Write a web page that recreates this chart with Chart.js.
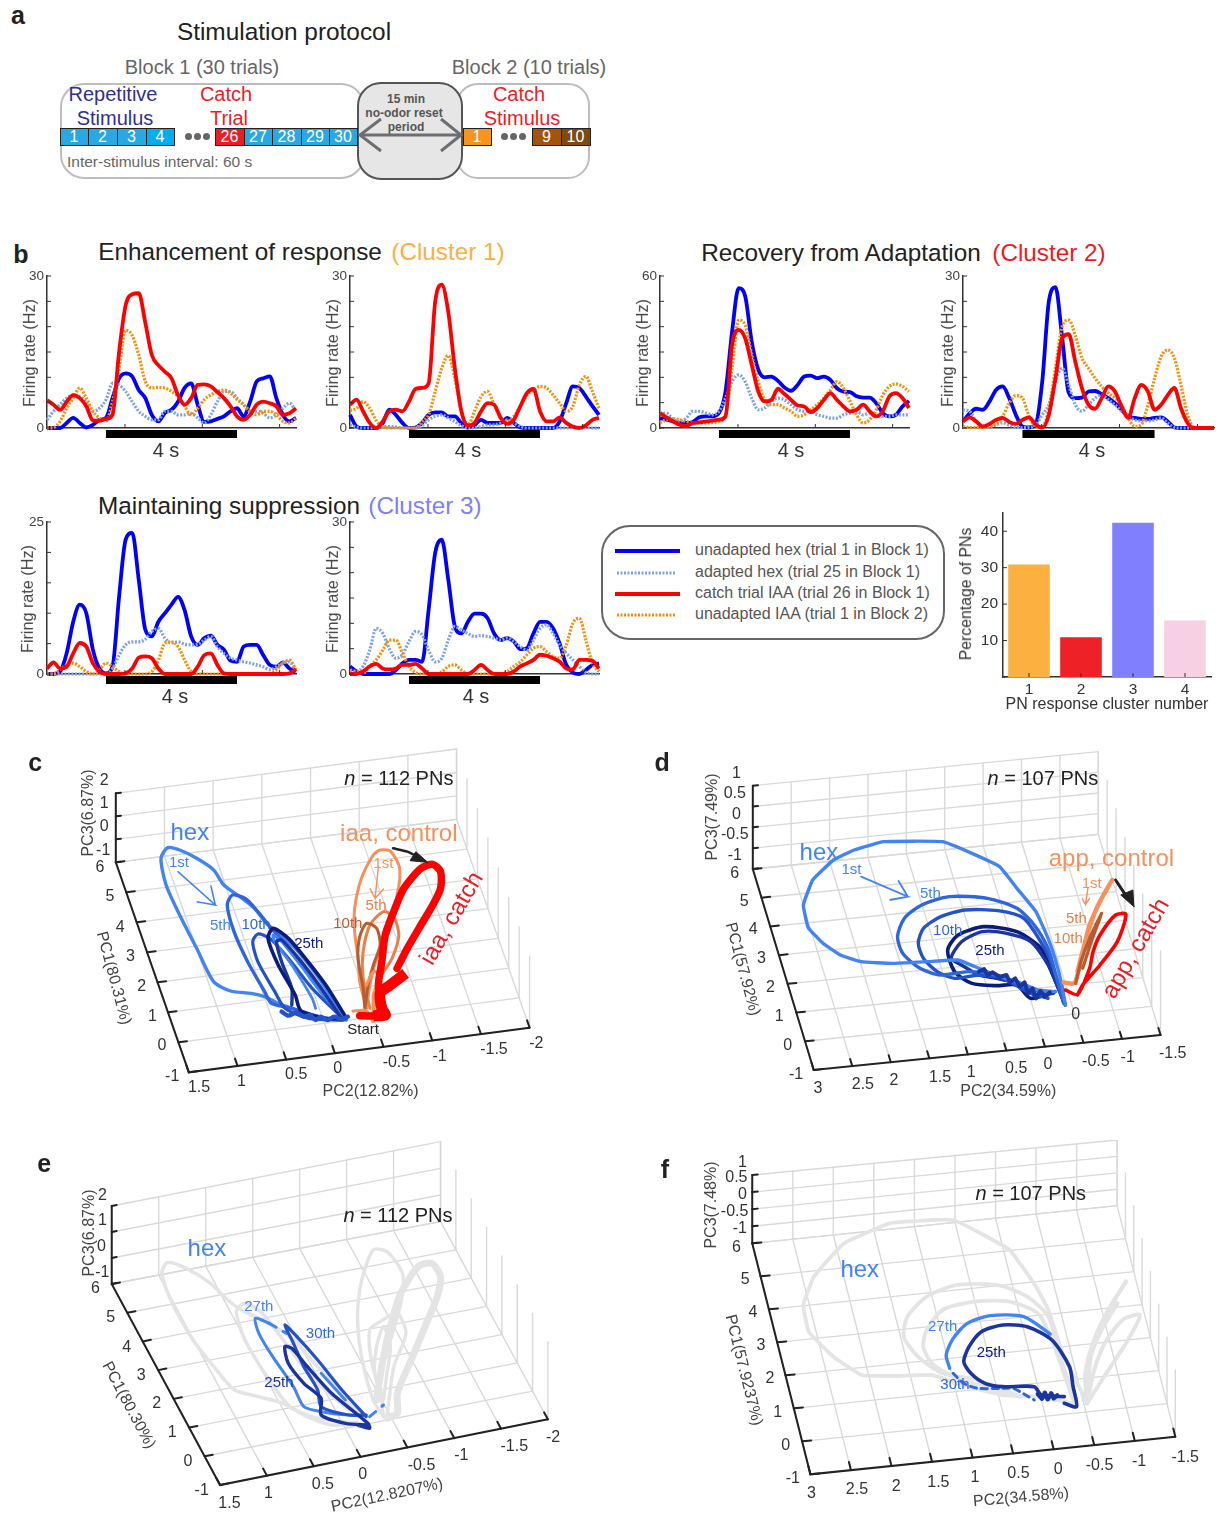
<!DOCTYPE html>
<html>
<head>
<meta charset="utf-8">
<script src="https://cdn.jsdelivr.net/npm/chart.js@4"></script>
<style>
  html, body { margin: 0; padding: 0; background: #fff; }
  #page { position: relative; width: 1221px; height: 1513px; overflow: hidden; font-family: "Liberation Sans", Arial, sans-serif; }
  #page canvas { position: absolute; }
  .t { position: absolute; white-space: nowrap; line-height: 1; }
  .box { position: absolute; box-sizing: border-box; }
  svg { position: absolute; left: 0; top: 0; }
</style>
</head>
<body>
<div id="page"></div>
<script>
// ::::: Firing rate traces, panel b. One value per time step :::::
const timeAxis = [-1.8, -1.6, -1.4, -1.2, -1, -0.8, -0.6, -0.4, -0.2, 0, 0.2, 0.4, 0.6, 0.8, 1, 1.2, 1.4, 1.6, 1.8, 2, 2.2, 2.4, 2.6, 2.8, 3, 3.2, 3.4, 3.6, 3.8, 4, 4.2, 4.4, 4.6, 4.8, 5, 5.2, 5.4, 5.6, 5.8];
const xTickTimes = [0.58, 2.94, 5.3];

const enh1Blue = [0, 0, 0, 1, 2, 1, 0.1, 0.6, 1.6, 2, 5.9, 9.8, 10.8, 10.2, 7.5, 5.9, 2.6, 1.3, 3, 3.6, 5.2, 7.9, 8.8, 4.6, 1.2, 1.3, 1.8, 2.3, 3.3, 3.9, 2.3, 5.2, 9.2, 9.8, 10.2, 5.9, 2.6, 1.3, 2];
const enh1Adapted = [1.6, 3.3, 4.6, 5.9, 6.5, 6.2, 5.2, 3.3, 3.9, 5.6, 8.8, 8.5, 7.2, 5.2, 3.3, 2.3, 1.6, 1.6, 3.3, 3.3, 2.6, 2.6, 2.9, 2, 1, 2.6, 5.2, 7.2, 7.2, 5.9, 4.6, 3.3, 3.3, 2.9, 2, 2.6, 3.9, 4.9, 3.3];
const enh1Red = [5.5, 4.6, 3.6, 5.2, 6.5, 5.9, 4.3, 1.5, 1.4, 1.8, 2.6, 15, 24.2, 26.4, 26.6, 20.8, 14.4, 12.4, 11.1, 9.8, 6.5, 4.6, 5.9, 8.5, 8.6, 8.2, 7.1, 5.9, 4.3, 2.3, 1.6, 2.6, 4.6, 5.2, 4.9, 4.3, 2.6, 2.9, 3.9];
const enh1Orange = [0, 0.1, 1.3, 3.9, 5.9, 7.9, 5.9, 3.3, 2, 1.4, 5.2, 11.8, 19.3, 18.3, 14.4, 9.2, 7.9, 8, 7.9, 7.2, 6.2, 4.3, 2.6, 3.9, 5.6, 6.5, 7.2, 7.5, 6.9, 5.6, 4.6, 3.3, 2.6, 3.3, 3.3, 2.6, 1.3, 1, 2];

const enh2Blue = [2.6, 0.3, 0, 0, 0, 1, 3.6, 2.6, 1, 0, 0.1, 1, 2.6, 3.1, 3.1, 2.3, 2.3, 1, 0.1, 0.6, 1.6, 1, 1, 1, 2, 1, 0.1, 0, 0, 0, 0, 0, 1.3, 4.9, 8.2, 7.9, 6.2, 4.3, 2.6];
const enh2Adapted = [0.6, 0.2, 0, 0, 0, 0.3, 0.3, 0.2, 0, 0, 0, 0.5, 1.6, 2.3, 2.6, 2, 1.3, 0.5, 0, 0, 0.3, 0.6, 0.6, 1, 1.6, 1, 0.3, 0, 0, 0, 0, 0, 0, 0, 0, 0, 0, 0, 0];
const enh2Red = [4.6, 5.6, 3.3, 1, 0, 1.3, 3.3, 3.6, 3.3, 5.2, 7.7, 7.9, 8.8, 24.9, 28.3, 22.9, 11.8, 3.3, 0.5, 1, 3.3, 4.9, 4.6, 2, 0.8, 1.6, 4.3, 6.9, 7.7, 3.3, 1.3, 1.3, 2.1, 1, 0.3, 0, 0.5, 1.6, 2];
const enh2Orange = [3.5, 3.9, 5.2, 3.9, 1.5, 0.2, 0, 0, 0, 0, 0, 1.3, 2.6, 7.2, 11.8, 14.3, 9.8, 3.3, 0.6, 3.3, 6.2, 7.2, 4.6, 2, 1.3, 2.3, 4.3, 6.5, 7.5, 8.2, 7.9, 6.5, 4.9, 3.3, 4.3, 8.5, 10.2, 7.2, 3.9];

const rec1Blue = [3.9, 3.3, 2.6, 2, 2, 2.4, 4.2, 4.6, 4.6, 5.9, 14.4, 38, 55.2, 52, 34, 23, 20, 20.3, 18.6, 16, 14.7, 17, 20.3, 20.7, 19.7, 20.3, 19, 15.7, 14.4, 14.2, 12.5, 12, 12, 9.8, 5.9, 4.6, 5.2, 8.5, 10.7];
const rec1Adapted = [5.2, 5.9, 3.3, 2.6, 3.9, 6.6, 6.6, 5.9, 5.2, 6.6, 11.8, 18.3, 21, 18.3, 11.8, 7.2, 7.9, 10.5, 11.8, 11.1, 9.2, 7.2, 6.6, 6.6, 5.2, 4.6, 3.9, 3.9, 5.2, 5.9, 6.6, 5.2, 5.9, 4.6, 4.6, 4.6, 5.2, 5.2, 5.2];
const rec1Red = [5.9, 4.2, 2.6, 1.3, 0.7, 2, 2.2, 2.6, 2.9, 3.3, 4.6, 32.8, 38.7, 35.4, 24.9, 14.4, 10.5, 11.1, 15.5, 13.4, 11.1, 8.9, 8.5, 6.3, 7.9, 11.1, 13.8, 11.1, 8.5, 6.6, 7.2, 9.2, 6.6, 4.6, 6.6, 12.5, 13.8, 11.8, 7.9];
const rec1Orange = [2, 3.3, 3.7, 3.3, 2.6, 2, 2, 2, 2.2, 2.6, 5.2, 23.6, 42.6, 40.6, 28.8, 18.3, 11.1, 9.2, 9.2, 7.9, 6.6, 4.6, 5.2, 7.2, 9.2, 11.8, 15, 18.3, 15.7, 10.5, 5.2, 2, 3.3, 7.2, 13, 16.4, 17.4, 16.4, 14.4];

const rec2Blue = [1.3, 2.9, 3.8, 3.6, 5.2, 7.5, 8.2, 5.9, 2.6, 0.3, 0.1, 0.7, 9.2, 25, 27.8, 18, 7, 5.9, 6, 7.2, 7.3, 6.7, 5.9, 4.9, 3.6, 2.3, 2, 1.8, 1.8, 2, 2.1, 1.3, 0.1, 0, 0, 0, 0, 0, 0];
const rec2Adapted = [3.6, 3.3, 1.3, 0.3, 0.3, 0.6, 1, 0.6, 0.1, 0.1, 0.1, 0.6, 2.6, 4.6, 9.2, 11.8, 8.5, 4.6, 3.3, 4.6, 5.9, 6.5, 5.6, 4.6, 3.3, 2.3, 1.6, 1.4, 1.4, 1.6, 2, 1, 0.1, 0, 0, 0, 0, 0, 0];
const rec2Red = [1.3, 2.1, 1.3, 0.3, 0.8, 1.6, 2, 1.2, 0.8, 1.6, 2.1, 0.7, 0.1, 2.6, 9.8, 17.7, 18.5, 13.1, 7.9, 4.6, 3.8, 5.9, 8.2, 7.2, 4.3, 2, 5.9, 8.5, 7.2, 3.6, 4.6, 6.5, 7.9, 3.9, 1, 0, 0, 0, 0];
const rec2Orange = [0.3, 0.1, 0.1, 0.1, 0.3, 0.8, 2.3, 4.9, 6.4, 5.9, 2.3, 0.3, 0.1, 3.9, 11.8, 20, 21.3, 18.3, 13.8, 11.8, 9.8, 8.2, 6.9, 5.9, 4.6, 2, 0.3, 0.7, 4.6, 9.8, 14.1, 15.4, 13.8, 8.5, 2.6, 0.1, 0, 0, 0];

const sup1Blue = [0, 0, 0.4, 3.4, 8.6, 11.4, 10, 4, 0.9, 0.1, 1.2, 12.7, 22.1, 23.2, 15.5, 7.3, 6.2, 8.6, 10, 11.4, 12.7, 10.5, 6.2, 4.8, 5.9, 6.3, 4.8, 4, 2.2, 2, 4.5, 4.8, 4.8, 3.1, 1.5, 1.2, 1.9, 0.9, 0.4];
const sup1Adapted = [0, 0, 0, 0, 0, 0, 0, 0, 0, 0, 0.9, 3.1, 4.8, 5.3, 5.3, 5.7, 7, 7.5, 5.9, 5.1, 5.3, 4.9, 4.8, 4.9, 5.6, 6.2, 4.5, 3.4, 2.6, 2.3, 2, 1.8, 1.5, 1.2, 0.7, 1.2, 1.8, 2, 0.4];
const sup1Red = [0.9, 1.9, 0.9, 1.2, 3.4, 5.1, 4.5, 1.8, 0.4, 0, 0, 0, 0.1, 0.9, 2.7, 2.9, 2.6, 0.9, 0, 0, 0, 0, 0, 1.2, 3.1, 3.4, 1.5, 0.1, 0, 0, 0, 0, 0, 0, 0, 0, 0, 0.1, 0.8];
const sup1Orange = [0, 0, 0.7, 1.5, 1.8, 1.2, 0.4, 0, 0.7, 1.8, 1.2, 0.4, 0, 0, 0, 0, 0.4, 2.3, 5.1, 5.3, 4.5, 2.3, 0.4, 0, 0, 0, 0, 0, 0, 0, 0, 0, 0, 0, 0.1, 0.7, 1.8, 2.3, 0.7];

const sup2Blue = [1.5, 0.5, 0, 0, 0, 0, 0, 0.8, 2.1, 2.8, 2.8, 2.4, 12.7, 23.9, 26.5, 18.6, 9.4, 8, 10.3, 11.9, 11.9, 11, 8, 6.7, 7.1, 6.4, 4.9, 5.1, 8, 10.3, 10.3, 9, 6, 1.8, 0.3, 0, 0.8, 1.8, 2.1];
const sup2Adapted = [0.8, 0.5, 1.5, 4.7, 9, 8, 5, 3.1, 3.8, 6.4, 8.4, 7.7, 4.7, 2.4, 3.1, 6.7, 9.4, 8.7, 8, 7.4, 7.6, 7.4, 7.1, 6.7, 7.1, 6.4, 5.4, 4.7, 6.7, 9, 9.7, 8, 5.7, 4.1, 2.8, 1.5, 0.3, 0, 0];
const sup2Red = [0, 0, 0.5, 1.5, 2, 1.1, 0.9, 1.1, 1.8, 1.8, 2, 1.1, 0, 0, 0, 0, 0, 0, 0, 0.8, 1.8, 0.8, 0, 0, 0, 0.5, 1.5, 2.1, 2.8, 3.8, 3.6, 3.1, 2.4, 1.1, 0.9, 2.8, 2.8, 2.6, 1.1];
const sup2Orange = [0.5, 0.5, 0.2, 1.5, 2.8, 4.7, 6.7, 6.7, 4.1, 1.5, 0.3, 0, 0, 0, 0.4, 1.5, 1.8, 0.8, 0, 0, 0, 0, 0, 0, 0.5, 1.5, 2.4, 3.8, 5.1, 5.4, 4.4, 3.4, 3.1, 5.7, 10, 11, 6.7, 2.1, 0.5];

// ::::: Cluster bars :::::
const clusterLabels = ["1", "2", "3", "4"];
const clusterShares = [30.9, 10.9, 42.3, 15.5];
const clusterColors = ["#fbb040", "#ee2226", "#8080ff", "#f7d0e4"];

const pc1Ticks = [-1, 0, 1, 2, 3, 4, 5, 6];
const cPc2Ticks = [1.5, 1, 0.5, 0, -0.5, -1, -1.5, -2];
const cPc3Ticks = [-1, 0, 1, 2];
const dPc2Ticks = [3, 2.5, 2, 1.5, 1, 0.5, 0, -0.5, -1, -1.5];
const dPc3Ticks = [-1, -0.5, 0, 0.5, 1];

const cHex1 = [[960,822],[940,795],[880,700],[810,610],[730,540],[690,490],[640,450],[600,420],[570,375],[520,340],[470,315],[435,308],[415,340],[430,420],[470,510],[520,610],[570,710],[620,738],[680,745],[720,755],[760,775],[830,800],[900,820],[960,825]];
const cHex5 = [[945,815],[870,720],[800,620],[740,550],[700,500],[665,462],[625,450],[610,480],[630,560],[670,650],[720,740],[740,775],[800,790],[880,820],[950,825]];
const cHex10 = [[945,815],[860,730],[790,640],[735,580],[700,567],[685,590],[700,650],[750,740],[780,790],[850,820],[950,825]];
const cHex27 = [[870,790],[860,760],[800,660],[750,590],[745,570],[770,590],[840,680],[900,760],[950,815]];
const cHex25 = [[960,818],[900,720],[840,640],[790,580],[745,550],[730,580],[760,660],[810,750],[820,785],[830,800],[900,820],[960,820]];
const cHex25b = [[945,818],[880,720],[820,640],[770,585],[755,590],[770,650],[800,730],[800,780]];
const cKnot = [[770,800],[790,812],[815,802],[835,815],[855,810],[870,825],[885,815],[905,825],[925,815],[945,822],[965,815]];
const cIaa1 = [[1020,790],[1030,720],[1050,640],[1075,590],[1095,530],[1110,450],[1118,400],[1115,360],[1090,318],[1060,315],[1040,330],[1005,400],[985,490],[985,560],[995,640],[1000,710],[1020,790]];
const cIaa5 = [[1040,800],[1060,700],[1095,640],[1115,570],[1100,515],[1070,500],[1030,540],[1010,620],[1010,700],[1030,790]];
const cIaa10 = [[1015,790],[1025,720],[1040,660],[1060,600],[1050,550],[1020,535],[1000,575],[995,640],[1010,730],[1015,790]];
const cIaaStart = [[980,798],[1020,798],[1040,830],[1040,750],[1060,690],[1040,680],[1020,720]];
const cCatch = [[1000,812],[1040,812],[1065,790],[1055,720],[1065,650],[1075,570],[1100,500],[1130,430],[1180,370],[1215,358],[1238,380],[1238,430],[1215,480],[1180,540],[1140,610],[1110,670]];
const cCatchThick = [[1135,685],[1090,720],[1060,745],[1065,790],[1075,810],[1040,812]];
const cArrowHex = [[465,380],[575,480],[520,470],[575,480],[562,423]];
const cArrowIaa = [[1055,365],[1045,460],[1030,430],[1045,460],[1070,432]];
const cArrowBlackLine = [[1098,310],[1140,320],[1175,338]];
const cArrowBlackHead = [[1200,352],[1148,347],[1165,320],[1200,352]];

const dHex1 = [[1200,780],[1190,720],[1170,640],[1150,580],[1115,500],[1060,430],[1010,365],[930,325],[845,290],[675,290],[590,315],[530,345],[470,405],[443,480],[457,548],[500,595],[550,630],[610,650],[700,655],[800,650],[890,645],[950,670],[1000,690],[1060,710],[1120,735],[1170,740]];
const dHex5 = [[1195,770],[1170,680],[1150,610],[1110,540],[1060,490],[975,460],[865,455],[785,480],[735,520],[715,575],[730,625],[780,670],[840,690],[920,680],[1000,690],[1070,720],[1150,750]];
const dHex10 = [[1195,775],[1165,670],[1140,610],[1080,520],[1005,497],[910,495],[840,515],[790,550],[775,595],[790,640],[830,680],[880,700],[950,690],[1020,700],[1090,740],[1150,760]];
const dHex25 = [[1200,780],[1160,680],[1130,610],[1060,560],[965,545],[890,570],[860,615],[880,680],[930,715],[1000,722],[1060,720],[1100,760],[1170,740]];
const dHex20 = [[1195,770],[1150,660],[1100,590],[1030,565],[960,560],[900,590],[870,640],[900,660],[950,690],[1000,700],[1060,715],[1110,750],[1165,745]];
const dKnot = [[950,680],[965,672],[975,690],[990,682],[1010,696],[1030,690],[1040,712],[1055,700],[1068,725],[1082,712],[1092,745],[1105,730],[1115,760],[1128,738],[1140,755],[1155,742]];
const dApp1 = [[1195,712],[1225,715],[1235,690],[1250,620],[1270,540],[1300,470],[1335,405],[1290,490],[1260,580],[1235,680]];
const dApp5 = [[1230,715],[1245,650],[1270,580],[1305,505],[1275,590],[1250,670]];
const dCatch = [[1200,735],[1235,748],[1270,670],[1280,620],[1300,570],[1345,510],[1375,508],[1350,590],[1300,660],[1250,720],[1235,750]];
const dArrowHex = [[610,395],[745,455],[692,465],[745,455],[718,408]];
const dArrowApp = [[1265,430],[1258,478],[1248,460],[1258,478],[1270,460]];
const dArrowBlackLine = [[1345,405],[1380,460]];
const dArrowBlackHead = [[1398,485],[1360,450],[1395,435],[1398,485]];

const eGrey1 = [[1000,830],[950,790],[860,680],[780,590],[700,540],[640,510],[600,480],[550,430],[480,385],[425,368],[410,400],[440,490],[500,600],[560,680],[620,750],[690,770],[760,790],[830,830],[900,855],[1000,850]];
const eGrey5 = [[950,810],[850,720],[760,600],[700,520],[650,490],[625,515],[650,600],[720,720],[780,800],[860,835],[980,850]];
const eGreyIaa1 = [[1050,830],[1040,720],[1070,600],[1100,490],[1105,400],[1060,335],[1020,330],[985,430],[975,530],[985,640],[1020,780],[1050,830]];
const eGreyIaa5 = [[1060,830],[1080,680],[1115,580],[1090,520],[1040,545],[1010,570],[1015,660],[1050,800]];
const eGreyIaa10 = [[1050,780],[1060,700],[1070,620],[1050,560],[1030,620],[1025,700],[1050,780]];
const eGreyCatch = [[1060,835],[1090,820],[1090,760],[1130,660],[1170,560],[1205,470],[1215,410],[1190,370],[1150,380],[1100,460],[1070,560],[1050,650],[1030,780]];
const e27 = [[1000,825],[950,825],[870,815],[820,800],[790,740],[730,650],[690,580],[680,535],[720,550]];
const e27Dash = [[720,550],[770,580]];
const e27Tail = [[870,700],[940,780]];
const e27End = [[1010,830],[1050,795]];
const e30 = [[1000,830],[930,750],[860,660],[800,590],[765,555],[790,610],[820,680],[860,750],[870,800],[950,825],[1000,825]];
const e25 = [[975,855],[1010,865],[1005,850],[900,760],[830,680],[785,625],[765,620],[775,670],[820,730],[870,775],[870,825],[940,850],[1005,855]];

const fGrey1 = [[1240,790],[1170,640],[1130,510],[1095,440],[1020,330],[860,240],[680,250],[550,310],[465,410],[435,495],[450,575],[520,650],[600,705],[700,708],[800,705],[900,740],[1000,765],[1100,770],[1200,790]];
const fGrey5 = [[1205,780],[1160,640],[1130,530],[1070,470],[985,435],[870,435],[785,470],[730,530],[720,590],[760,650],[830,700],[930,720],[1050,770]];
const fGrey10 = [[1200,780],[1140,600],[1100,520],[1020,485],[920,485],[830,510],[785,570],[775,620],[800,670],[860,710],[950,740],[1050,770]];
const fGreyApp1 = [[1350,425],[1300,510],[1260,600],[1235,700],[1240,790]];
const fGreyApp5 = [[1325,490],[1280,570],[1250,650],[1240,790]];
const fGreyCatch = [[1240,790],[1260,690],[1290,610],[1340,540],[1390,525],[1350,610],[1300,690],[1240,790]];
const f27 = [[1135,582],[1060,530],[965,527],[900,550],[860,595],[840,645],[850,685]];
const f30 = [[860,700],[890,730],[930,745],[1000,745],[1030,745],[1090,780]];
const f25 = [[1175,790],[1210,800],[1200,740],[1190,680],[1140,600],[1070,560],[1000,555],[940,575],[905,620],[890,665],[910,700],[950,730],[1000,740],[1090,740],[1110,765],[1175,770]];
const fKnot = [[1100,762],[1112,776],[1120,758],[1128,778],[1138,760],[1145,775],[1155,766]];

// The projected view of each panel: where the canvas sits and how many view units it spans
const panelC = { left: 20, top: 745, w: 530, h: 360, viewW: 1560, viewH: 1080 };
const panelD = { left: 650, top: 745, w: 540, h: 360, viewW: 1560, viewH: 1080 };
const panelE = { left: 20, top: 1140, w: 540, h: 373, viewW: 1560, viewH: 1119 };
const panelF = { left: 650, top: 1140, w: 550, h: 373, viewW: 1560, viewH: 1119 };

// Box corners of the PCA axes in view units
const boxC = { A: [282,352], B: [497,982], C: [1500,848], D: [1285,223], Atop: [282,145], Dtop: [1285,12], Ctop: [1500,635] };
const boxD = { A: [297,372], B: [473,975], C: [1475,870], D: [1295,268], Atop: [297,122], Dtop: [1295,20], Ctop: [1475,618] };
const boxE = { A: [265,432], B: [578,1035], C: [1525,838], D: [1215,245], Atop: [265,198], Dtop: [1215,5], Ctop: [1525,605] };
const boxF = { A: [290,310], B: [455,1003], C: [1490,890], D: [1325,197], Atop: [290,105], Dtop: [1325,0], Ctop: [1490,690] };

const hexBlue1 = "#4284f3";
const hexBlue5 = "#2f66de";
const hexBlue10 = "#2452c8";
const hexBlue20 = "#1a35a0";
const hexNavy = "#0c1c7c";
const iaaLight = "#f7905a";
const iaaMid = "#e8804a";
const iaaDark = "#b85c30";
const pureRed = "#ff0000";
const greyTrace = "#e4e4e4";
const gridGrey = "#d9d9d9";
const axisDark = "#222222";

const traceBlue = "#0000ff";
const traceAdapted = "#7ca2e8";
const traceRed = "#ff0000";
const traceOrange = "#ff8c00";

const page = document.getElementById("page");

// THE HELPERS
function addText(text, x, y, opt = {}) {
    const el = document.createElement("div");
    el.className = "t";
    if (opt.html) el.innerHTML = text; else el.textContent = text;
    el.style.left = x + "px";
    el.style.top = y + "px";
    el.style.fontSize = (opt.size || 14) + "px";
    el.style.color = opt.color || "#333";
    if (opt.bold) el.style.fontWeight = "bold";
    const shift = opt.align === "left" ? "translate(0,-50%)" : "translate(-50%,-50%)";
    el.style.transform = shift + (opt.rot ? ` rotate(${opt.rot}deg)` : "");
    page.appendChild(el);
}

function addBox(x, y, w, h, css) {
    const el = document.createElement("div");
    el.className = "box";
    el.style.left = x + "px";
    el.style.top = y + "px";
    el.style.width = w + "px";
    el.style.height = h + "px";
    Object.assign(el.style, css);
    page.appendChild(el);
}

function addCanvas(left, top, w, h) {
    const canvas = document.createElement("canvas");
    canvas.width = w;
    canvas.height = h;
    canvas.style.left = left + "px";
    canvas.style.top = top + "px";
    canvas.style.width = w + "px";
    canvas.style.height = h + "px";
    page.appendChild(canvas);
    return canvas;
}

// Tick marks point inwards, like the original plots
const inwardTicks = {
    id: "inwardTicks",
    afterDraw(chart) {
        const { x, y } = chart.scales;
        const area = chart.chartArea;
        const ctx = chart.ctx;
        ctx.save();
        ctx.strokeStyle = "#333";
        ctx.lineWidth = 1;
        y.ticks.forEach((t, i) => {
            const py = y.getPixelForTick(i);
            ctx.beginPath();
            ctx.moveTo(area.left, py);
            ctx.lineTo(area.left + 4, py);
            ctx.stroke();
        });
        x.ticks.forEach((t, i) => {
            const px = x.getPixelForTick(i);
            ctx.beginPath();
            ctx.moveTo(px, area.bottom);
            ctx.lineTo(px, area.bottom - 4);
            ctx.stroke();
        });
        ctx.restore();
    }
};

// THE GRAPHS
// ::::: Panel a, the protocol schematic :::::
addText("a", 18, 15, { size: 25, bold: true, color: "#222" });
addText("Stimulation protocol", 284, 32, { size: 24.4, color: "#222" });
addText("Block 1 (30 trials)", 202, 67, { size: 20, color: "#666" });
addText("Block 2 (10 trials)", 529, 67, { size: 20, color: "#666" });
addBox(60, 83, 305, 96, { border: "2px solid #bdbdbd", borderRadius: "24px" });
addBox(456, 83, 134, 96, { border: "2px solid #bdbdbd", borderRadius: "22px" });
addBox(357, 82, 106, 98, { border: "2px solid #555", borderRadius: "24px", background: "#e6e6e6" });
addText("Repetitive", 113, 94, { size: 20, color: "#2e3192" });
addText("Stimulus", 115, 118, { size: 20, color: "#2e3192" });
addText("Catch", 226, 94, { size: 20, color: "#ed1c24" });
addText("Trial", 229, 118, { size: 20, color: "#ed1c24" });
addText("Catch", 519, 94, { size: 20, color: "#ed1c24" });
addText("Stimulus", 522, 118, { size: 20, color: "#ed1c24" });
addText("Inter-stimulus interval: 60 s", 67, 162, { size: 15.5, color: "#666", align: "left" });
addText("15 min", 406, 99, { size: 12, bold: true, color: "#555" });
addText("no-odor reset", 404, 113, { size: 12, bold: true, color: "#555" });
addText("period", 406, 127, { size: 12, bold: true, color: "#555" });

const trialCells = [
    ["1", 60, 88, "#29a9e1"], ["2", 88, 117, "#29a9e1"], ["3", 117, 146, "#29a9e1"], ["4", 146, 174, "#00aeef"],
    ["26", 215, 244, "#ed1c24"], ["27", 244, 272, "#29a9e1"], ["28", 272, 301, "#29a9e1"], ["29", 301, 329, "#29a9e1"], ["30", 329, 357, "#29a9e1"],
    ["1", 463, 491, "#f7941d"], ["9", 532, 561, "#a5520a"], ["10", 561, 590, "#7f4a10"]
];
trialCells.forEach(([label, x0, x1, color]) => {
    addBox(x0, 128, x1 - x0 + 1, 18, { border: "1.5px solid #222", background: color });
    addText(label, (x0 + x1) / 2, 137, { size: 16, color: "#fff" });
});
[188, 197, 206, 504, 513, 522].forEach((x) => addBox(x - 3.5, 133, 7, 7, { background: "#666", borderRadius: "50%" }));

const overlay = document.createElementNS("http://www.w3.org/2000/svg", "svg");
overlay.setAttribute("width", 1221);
overlay.setAttribute("height", 1513);
overlay.innerHTML = `
    <g stroke="#6d6e71" stroke-width="3" fill="none">
        <path d="M360 135 H461"/><path d="M381 119 L360 135 L381 151"/><path d="M441 119 L461 135 L441 151"/>
    </g>
    <rect x="602" y="526" width="342" height="113" rx="28" fill="#fff" stroke="#666" stroke-width="2"/>
    <path d="M615 551 H680" stroke="${traceBlue}" stroke-width="4"/>
    <path d="M617 573 H676" stroke="${traceAdapted}" stroke-width="3" stroke-dasharray="2 1.5"/>
    <path d="M615 594 H680" stroke="${traceRed}" stroke-width="4"/>
    <path d="M617 615 H676" stroke="${traceOrange}" stroke-width="3" stroke-dasharray="2 1.5"/>`;
page.appendChild(overlay);

addText("unadapted hex (trial 1 in Block 1)", 695, 550, { size: 16, color: "#555", align: "left" });
addText("adapted hex (trial 25 in Block 1)", 695, 572, { size: 16, color: "#555", align: "left" });
addText("catch trial IAA (trial 26 in Block 1)", 695, 593, { size: 16, color: "#555", align: "left" });
addText("unadapted IAA (trial 1 in Block 2)", 695, 614, { size: 16, color: "#555", align: "left" });

// ::::: Panel b, the firing rate traces :::::
addText("b", 21, 254, { size: 25, bold: true, color: "#222" });
addText("Enhancement of response", 240, 252, { size: 24.3, color: "#222" });
addText("(Cluster 1)", 448, 252, { size: 24.3, color: "#fbb040" });
addText("Recovery from Adaptation", 841, 253, { size: 24.3, color: "#222" });
addText("(Cluster 2)", 1049, 253, { size: 24.3, color: "#ed1c24" });
addText("Maintaining suppression", 229, 506, { size: 24.3, color: "#222" });
addText("(Cluster 3)", 425, 506, { size: 24.3, color: "#8080ff" });

function createFiringChart(axisX, top, width, height, yMax, yStep, labelX, barLabelX, blue, adapted, red, orange) {
    const gutter = 30;
    const canvas = addCanvas(axisX - gutter, top - 12, width + gutter + 8, height + 12 + 16);
    const toPoints = (series) => series.map((y, i) => ({ x: timeAxis[i], y: y }));
    const trace = (label, series, color, dashed) => ({
        label: label,
        data: toPoints(series),
        borderColor: color,
        borderWidth: dashed ? 3.2 : 3.8,
        borderDash: dashed ? [2, 1.5] : [],
        cubicInterpolationMode: "monotone",
        clip: false
    });
    new Chart(canvas, {
        type: "line",
        data: {
            datasets: [
                trace("catch trial IAA", red, traceRed, false),
                trace("unadapted IAA", orange, traceOrange, true),
                trace("adapted hex", adapted, traceAdapted, true),
                trace("unadapted hex", blue, traceBlue, false),
                {
                    label: "stimulus",
                    data: [{ x: 0, y: -yMax * 0.04 }, { x: 4, y: -yMax * 0.04 }],
                    borderColor: "#000",
                    borderWidth: 8,
                    clip: false
                }
            ]
        },
        options: {
            responsive: false,
            animation: false,
            layout: { padding: { top: 12, right: 8 } },
            elements: { point: { radius: 0 } },
            scales: {
                x: {
                    type: "linear",
                    min: timeAxis[0],
                    max: timeAxis[timeAxis.length - 1],
                    afterBuildTicks: (scale) => { scale.ticks = xTickTimes.map((v) => ({ value: v })); },
                    afterFit: (scale) => { scale.height = 16; },
                    grid: { display: false, drawTicks: false },
                    border: { color: "#333", width: 1.5 },
                    ticks: { display: false }
                },
                y: {
                    min: 0,
                    max: yMax,
                    afterFit: (scale) => { scale.width = gutter; },
                    grid: { display: false, drawTicks: false },
                    border: { color: "#333", width: 1.5 },
                    ticks: {
                        stepSize: yStep,
                        padding: 3,
                        color: "#444",
                        font: { family: "Liberation Sans", size: 13.5 },
                        callback: (v) => (v === 0 || v === yMax ? String(v) : "")
                    }
                }
            },
            plugins: { legend: { display: false }, tooltip: { enabled: false } }
        },
        plugins: [inwardTicks]
    });
    addText("Firing rate (Hz)", labelX, top + 77, { size: 16.2, color: "#444", rot: -90 });
    addText("4 s", barLabelX, top + height + 22, { size: 20, color: "#333" });
}

createFiringChart(46.5, 276, 249, 152, 30, 5, 29, 166, enh1Blue, enh1Adapted, enh1Red, enh1Orange);
createFiringChart(350, 276, 249, 152, 30, 5, 332, 468, enh2Blue, enh2Adapted, enh2Red, enh2Orange);
createFiringChart(660, 276, 249, 152, 60, 10, 642, 791, rec1Blue, rec1Adapted, rec1Red, rec1Orange);
createFiringChart(963, 276, 251, 152, 30, 5, 947, 1092, rec2Blue, rec2Adapted, rec2Red, rec2Orange);
createFiringChart(46.5, 522, 249, 152, 25, 5, 27, 175, sup1Blue, sup1Adapted, sup1Red, sup1Orange);
createFiringChart(350, 522, 249, 152, 30, 5, 332, 476, sup2Blue, sup2Adapted, sup2Red, sup2Orange);

// ::::: The cluster share bars :::::
function createClusterChart() {
    const canvas = addCanvas(973, 497, 244, 202);
    new Chart(canvas, {
        type: "bar",
        data: {
            labels: clusterLabels,
            datasets: [{
                label: "Percentage of PNs",
                data: clusterShares,
                backgroundColor: clusterColors,
                barPercentage: 0.8,
                categoryPercentage: 1
            }]
        },
        options: {
            responsive: false,
            animation: false,
            layout: { padding: { top: 16, right: 6 } },
            scales: {
                x: {
                    afterFit: (scale) => { scale.height = 22; },
                    grid: { display: false, drawTicks: false },
                    border: { color: "#333", width: 1.5 },
                    ticks: { padding: 3, color: "#333", font: { family: "Liberation Sans", size: 15.5 } }
                },
                y: {
                    min: 0,
                    max: 45,
                    afterFit: (scale) => { scale.width = 30; },
                    grid: { display: false, drawTicks: false },
                    border: { color: "#333", width: 1.5 },
                    ticks: {
                        stepSize: 5,
                        padding: 5,
                        color: "#333",
                        font: { family: "Liberation Sans", size: 15.5 },
                        callback: (v) => (v > 0 && v % 10 === 0 ? String(v) : "")
                    }
                }
            },
            plugins: { legend: { display: false }, tooltip: { enabled: false } }
        },
        plugins: [inwardTicks]
    });
    addText("Percentage of PNs", 966, 594, { size: 15.8, color: "#333", rot: -90 });
    addText("PN response cluster number", 1107, 704, { size: 16, color: "#333" });
}
createClusterChart();

// ::::: Panels c to f, PCA trajectories inside a projected box :::::
function lerp(p, q, k) {
    return [p[0] + (q[0] - p[0]) * k, p[1] + (q[1] - p[1]) * k];
}
function floorPoint(box, s, t) {
    return lerp(lerp(box.B, box.C, s), lerp(box.A, box.D, s), t);
}
function backPoint(box, s, h) {
    return lerp(lerp(box.A, box.D, s), lerp(box.Atop, box.Dtop, s), h);
}
function rightPoint(box, t, h) {
    return lerp(lerp(box.C, box.D, t), lerp(box.Ctop, box.Dtop, t), h);
}
function fractionOf(ticks, v) {
    return (v - ticks[0]) / (ticks[ticks.length - 1] - ticks[0]);
}

function path(points, color, width, extra = {}) {
    return Object.assign({
        data: points.map((p) => ({ x: p[0], y: p[1] })),
        borderColor: color,
        borderWidth: width,
        showLine: true,
        pointRadius: 0,
        tension: 0.25,
        borderJoinStyle: "round",
        borderCapStyle: "round"
    }, extra);
}

function gridPaths(box, pc2Ticks, pc3Ticks) {
    const straight = { tension: 0 };
    const out = [];
    pc2Ticks.forEach((v) => {
        const s = fractionOf(pc2Ticks, v);
        out.push(path([floorPoint(box, s, 0), floorPoint(box, s, 1), backPoint(box, s, 1)], gridGrey, 1.4, straight));
    });
    pc1Ticks.forEach((v) => {
        const t = fractionOf(pc1Ticks, v);
        out.push(path([floorPoint(box, 0, t), floorPoint(box, 1, t), rightPoint(box, t, 1)], gridGrey, 1.4, straight));
    });
    pc3Ticks.forEach((v) => {
        const h = fractionOf(pc3Ticks, v);
        out.push(path([backPoint(box, 0, h), backPoint(box, 1, h), rightPoint(box, 1, h)], gridGrey, 1.4, straight));
    });
    // the dark axes and their short ticks
    out.push(path([box.Atop, box.A, box.B, box.C], axisDark, 2, { tension: 0, borderJoinStyle: "miter" }));
    pc2Ticks.forEach((v) => {
        const s = fractionOf(pc2Ticks, v);
        out.push(path([floorPoint(box, s, 0), floorPoint(box, s, 0.035)], axisDark, 2, straight));
    });
    pc1Ticks.forEach((v) => {
        const t = fractionOf(pc1Ticks, v);
        out.push(path([floorPoint(box, 0, t), floorPoint(box, 0.025, t)], axisDark, 2, straight));
    });
    pc3Ticks.forEach((v) => {
        const h = fractionOf(pc3Ticks, v);
        out.push(path([backPoint(box, 0, h), backPoint(box, 0.015, h)], axisDark, 2, straight));
    });
    return out;
}

function createPcaChart(panel, box, pc2Ticks, pc3Ticks, traces) {
    const canvas = addCanvas(panel.left, panel.top, panel.w, panel.h);
    const drawn = gridPaths(box, pc2Ticks, pc3Ticks).concat(traces);
    new Chart(canvas, {
        type: "scatter",
        data: { datasets: drawn.reverse() },
        options: {
            responsive: false,
            animation: false,
            layout: { padding: 0 },
            scales: {
                x: { type: "linear", display: false, min: 0, max: panel.viewW },
                y: { type: "linear", display: false, min: 0, max: panel.viewH, reverse: true }
            },
            plugins: { legend: { display: false }, tooltip: { enabled: false } }
        }
    });
}

function viewText(panel, text, u, v, opt) {
    addText(text, panel.left + u * panel.w / panel.viewW, panel.top + v * panel.h / panel.viewH, opt);
}
function viewLabels(panel, rows, opt) {
    rows.forEach(([text, u, v]) => viewText(panel, text, u, v, opt));
}

const tickFont = { size: 16, color: "#333" };
const pcFont = { size: 16, color: "#444" };
const nFont = { size: 20, color: "#222", html: true };
const bigFont = 24;
const stepFont = 15;
const arrowLine = { tension: 0, borderJoinStyle: "miter" };

// c
createPcaChart(panelC, boxC, cPc2Ticks, cPc3Ticks, [
    path(cHex1, hexBlue1, 3.4),
    path(cHex5, hexBlue5, 3.4),
    path(cHex10, hexBlue10, 3.2),
    path(cHex27, hexBlue1, 2.8),
    path(cHex25b, hexBlue20, 3.4),
    path(cHex25, hexNavy, 3.6),
    path(cKnot, hexBlue10, 4.4),
    path(cIaa1, iaaLight, 3),
    path(cIaa5, iaaMid, 3),
    path(cIaa10, iaaDark, 3),
    path(cIaaStart, iaaLight, 3.2),
    path(cCatch, pureRed, 7.5),
    path(cCatchThick, pureRed, 11, { borderCapStyle: "butt" }),
    path(cArrowHex, hexBlue1, 1.6, arrowLine),
    path(cArrowIaa, iaaLight, 1.4, arrowLine),
    path(cArrowBlackLine, "#222", 2.5),
    path(cArrowBlackHead, "#222", 1, { tension: 0, fill: "shape", backgroundColor: "#222" })
]);
viewLabels(panelC, [["2", 248, 105], ["1", 248, 175], ["0", 248, 243], ["-1", 245, 315], ["6", 235, 365], ["5", 265, 452], ["4", 295, 545], ["3", 325, 633], ["2", 358, 722], ["1", 390, 812], ["0", 418, 900], ["-1", 448, 992], ["1.5", 527, 1025], ["1", 652, 1008], ["0.5", 813, 988], ["0", 935, 970], ["-0.5", 1108, 950], ["-1", 1235, 932], ["-1.5", 1395, 912], ["-2", 1520, 893]], tickFont);
viewText(panelC, "c", 45, 52, { size: 25, bold: true, color: "#222" });
viewText(panelC, "PC3(6.87%)", 200, 205, Object.assign({ rot: -90 }, pcFont));
viewText(panelC, "PC1(80.31%)", 277, 700, Object.assign({ rot: 75 }, pcFont));
viewText(panelC, "PC2(12.82%)", 1032, 1038, pcFont);
viewText(panelC, "<i>n</i> = 112 PNs", 1115, 100, nFont);
viewText(panelC, "hex", 500, 262, { size: bigFont, color: hexBlue1 });
viewText(panelC, "1st", 468, 348, { size: stepFont, color: hexBlue1 });
viewText(panelC, "5th", 590, 537, { size: stepFont, color: hexBlue1 });
viewText(panelC, "10th", 695, 535, { size: stepFont, color: hexBlue5 });
viewText(panelC, "25th", 850, 590, { size: stepFont, color: hexNavy });
viewText(panelC, "iaa, control", 1115, 265, { size: bigFont, color: iaaLight });
viewText(panelC, "1st", 1070, 352, { size: stepFont, color: iaaLight });
viewText(panelC, "5th", 1048, 478, { size: stepFont, color: iaaMid });
viewText(panelC, "10th", 965, 530, { size: stepFont, color: iaaDark });
viewText(panelC, "iaa, catch", 1270, 520, { size: bigFont, color: "#ed1c24", rot: -60 });
viewText(panelC, "Start", 1010, 850, { size: stepFont, color: "#222" });

// d
createPcaChart(panelD, boxD, dPc2Ticks, dPc3Ticks, [
    path(dHex25, hexNavy, 3.6),
    path(dHex20, hexBlue20, 3.4),
    path(dHex10, hexBlue10, 3.4),
    path(dHex5, hexBlue5, 3.4),
    path(dHex1, hexBlue1, 3.4, { tension: 0.1 }),
    path(dKnot, hexBlue20, 4, { tension: 0 }),
    path(dApp1, iaaLight, 4.4),
    path(dApp5, iaaDark, 3.2),
    path(dCatch, pureRed, 3.6),
    path(dArrowHex, hexBlue1, 1.8, arrowLine),
    path(dArrowApp, iaaLight, 1.4, arrowLine),
    path(dArrowBlackLine, "#222", 3),
    path(dArrowBlackHead, "#222", 1, { tension: 0, fill: "shape", backgroundColor: "#222" })
]);
viewLabels(panelD, [["1", 250, 85], ["0.5", 245, 145], ["0", 250, 207], ["-0.5", 245, 268], ["-1", 245, 330], ["6", 245, 385], ["5", 272, 468], ["4", 298, 553], ["3", 322, 640], ["2", 348, 727], ["1", 373, 812], ["0", 398, 900], ["-1", 422, 987], ["3", 485, 1028], ["2.5", 615, 1018], ["2", 705, 1005], ["1.5", 838, 995], ["1", 928, 980], ["0.5", 1058, 970], ["0", 1150, 958], ["-0.5", 1288, 948], ["-1", 1380, 935], ["-1.5", 1510, 923], ["0", 1230, 808]], tickFont);
viewText(panelD, "d", 35, 52, { size: 25, bold: true, color: "#222" });
viewText(panelD, "PC3(7.49%)", 178, 215, Object.assign({ rot: -90 }, pcFont));
viewText(panelD, "PC1(57.92%)", 270, 672, Object.assign({ rot: 75 }, pcFont));
viewText(panelD, "PC2(34.59%)", 1035, 1037, pcFont);
viewText(panelD, "<i>n</i> = 107 PNs", 1135, 100, nFont);
viewText(panelD, "hex", 488, 322, { size: bigFont, color: hexBlue1 });
viewText(panelD, "1st", 582, 368, { size: stepFont, color: hexBlue1 });
viewText(panelD, "5th", 810, 442, { size: stepFont, color: hexBlue1 });
viewText(panelD, "10th", 860, 552, { size: stepFont, color: hexBlue5 });
viewText(panelD, "25th", 982, 612, { size: stepFont, color: hexNavy });
viewText(panelD, "app, control", 1333, 340, { size: bigFont, color: iaaLight });
viewText(panelD, "1st", 1276, 412, { size: stepFont, color: iaaLight });
viewText(panelD, "5th", 1232, 515, { size: stepFont, color: iaaMid });
viewText(panelD, "10th", 1208, 575, { size: stepFont, color: iaaMid });
viewText(panelD, "app, catch", 1400, 610, { size: bigFont, color: "#ed1c24", rot: -60 });

// e
createPcaChart(panelE, boxE, cPc2Ticks, cPc3Ticks, [
    path(eGrey1, greyTrace, 3.6),
    path(eGrey5, greyTrace, 3.6),
    path(eGreyIaa1, greyTrace, 3.4),
    path(eGreyIaa5, greyTrace, 3.4),
    path(eGreyIaa10, greyTrace, 3.4),
    path(eGreyCatch, greyTrace, 7),
    path(e27, hexBlue1, 3),
    path(e27Dash, hexBlue1, 3, { borderDash: [8, 8] }),
    path(e27Tail, hexBlue1, 3),
    path(e27End, hexBlue1, 3, { borderDash: [8, 8] }),
    path(e30, hexBlue10, 3.2),
    path(e25, hexBlue20, 3.4)
]);
viewLabels(panelE, [["2", 238, 165], ["1", 238, 240], ["0", 235, 318], ["-1", 238, 395], ["6", 218, 445], ["5", 262, 530], ["4", 308, 620], ["3", 350, 705], ["2", 395, 790], ["1", 440, 875], ["0", 485, 962], ["-1", 525, 1050], ["1.5", 605, 1088], ["1", 718, 1060], ["0.5", 875, 1032], ["0", 990, 1003], ["-0.5", 1160, 975], ["-1", 1275, 945], ["-1.5", 1428, 918], ["-2", 1540, 892]], tickFont);
viewText(panelE, "e", 70, 68, { size: 25, bold: true, color: "#222" });
viewText(panelE, "PC3(6.87%)", 198, 278, Object.assign({ rot: -90 }, pcFont));
viewText(panelE, "PC1(80.30%)", 315, 795, Object.assign({ rot: 62 }, pcFont));
viewText(panelE, "PC2(12.8207%)", 1060, 1065, Object.assign({ rot: -12 }, pcFont));
viewText(panelE, "<i>n</i> = 112 PNs", 1092, 225, nFont);
viewText(panelE, "hex", 540, 325, { size: bigFont, color: hexBlue1 });
viewText(panelE, "27th", 690, 495, { size: stepFont, color: hexBlue1 });
viewText(panelE, "30th", 868, 577, { size: stepFont, color: hexBlue5 });
viewText(panelE, "25th", 748, 722, { size: stepFont, color: hexBlue20 });

// f
createPcaChart(panelF, boxF, dPc2Ticks, dPc3Ticks, [
    path(fGrey1, greyTrace, 3.8, { tension: 0.1 }),
    path(fGrey5, greyTrace, 3.8),
    path(fGrey10, greyTrace, 3.8),
    path(fGreyApp1, greyTrace, 4.4),
    path(fGreyApp5, greyTrace, 4.4),
    path(fGreyCatch, greyTrace, 4),
    path(f27, hexBlue1, 3.4),
    path(f30, hexBlue5, 3, { borderDash: [6, 5] }),
    path(f25, hexBlue20, 3.6),
    path(fKnot, hexBlue20, 4.4, { tension: 0 })
]);
viewLabels(panelF, [["1", 262, 65], ["0.5", 245, 112], ["0", 262, 162], ["-0.5", 240, 212], ["-1", 255, 265], ["6", 245, 320], ["5", 270, 418], ["4", 292, 517], ["3", 315, 615], ["2", 340, 715], ["1", 362, 815], ["0", 385, 915], ["-1", 405, 1015], ["3", 458, 1060], ["2.5", 587, 1048], ["2", 698, 1037], ["1.5", 818, 1025], ["1", 922, 1012], ["0.5", 1045, 1000], ["0", 1158, 988], ["-0.5", 1275, 975], ["-1", 1387, 962], ["-1.5", 1518, 950]], tickFont);
viewText(panelF, "f", 42, 88, { size: 25, bold: true, color: "#222" });
viewText(panelF, "PC3(7.48%)", 172, 195, Object.assign({ rot: -90 }, pcFont));
viewText(panelF, "PC1(57.9237%)", 268, 690, Object.assign({ rot: 76 }, pcFont));
viewText(panelF, "PC2(34.58%)", 1052, 1070, Object.assign({ rot: -5 }, pcFont));
viewText(panelF, "<i>n</i> = 107 PNs", 1080, 158, nFont);
viewText(panelF, "hex", 595, 388, { size: bigFont, color: hexBlue1 });
viewText(panelF, "27th", 830, 555, { size: stepFont, color: hexBlue1 });
viewText(panelF, "25th", 968, 633, { size: stepFont, color: hexNavy });
viewText(panelF, "30th", 865, 728, { size: stepFont, color: hexBlue5 });
</script>
</body>
</html>
